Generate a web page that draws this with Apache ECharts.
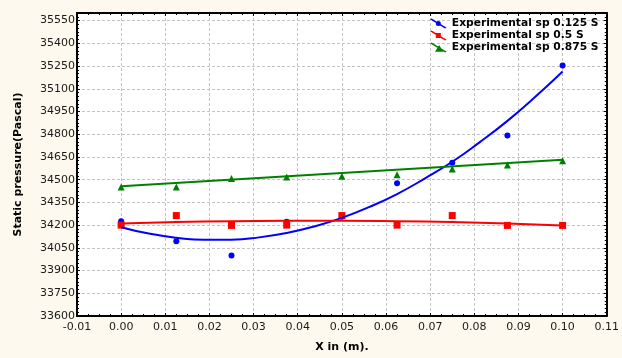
<!DOCTYPE html>
<html>
<head>
<meta charset="utf-8">
<script src="https://cdn.jsdelivr.net/npm/echarts@6/dist/echarts.min.js"></script>
<style>
  html, body { margin: 0; padding: 0; background: #fdf9ee; }
  #chart { width: 622px; height: 358px; }
</style>
</head>
<body>
<div id="chart"></div>
<script>
// Measurement positions along the duct (m)
const positions = [0, 0.0125, 0.025, 0.0375, 0.05, 0.0625, 0.075, 0.0875, 0.1];

// Measured static pressure (Pascal) at each position
const pressure0125 = [34226, 34094, 34000, 34222, 34255, 34476, 34611, 34792, 35254];
const pressure05   = [34200, 34263, 34198, 34200, 34263, 34200, 34263, 34198, 34198];
const pressure0875 = [34452, 34452, 34507, 34518, 34522, 34533, 34571, 34597, 34624];

// Fitted trend curves, sampled along x
const trendX0125 = [0, 0.00625, 0.0125, 0.01875, 0.025, 0.03125, 0.0375, 0.04375, 0.05,
                    0.05625, 0.0625, 0.06875, 0.075, 0.08125, 0.0875, 0.09375, 0.1];
const trend0125  = [34186, 34144, 34117, 34103, 34104, 34119, 34148, 34191, 34248,
                    34320, 34405, 34507, 34618, 34748, 34888, 35045, 35214];
const trend05   = [34211, 34220, 34225, 34228, 34229, 34226, 34220, 34211, 34198];
const trendX0875 = [0, 0.1];
const trend0875  = [34456, 34632];

const seriesNames = ['Experimental sp 0.125 S', 'Experimental sp 0.5 S', 'Experimental sp 0.875 S'];

// Axis extents
const xMin = -0.01, xMax = 0.11, xStep = 0.01;
const yMin = 33600, yMax = 35600, yStep = 150;

const pairs = (xs, ys) => xs.map((x, i) => [x, ys[i]]);

// Legend icons: a slanted stroke with the series marker on it
const iconCircle   = 'path://M0,1 L2,0 L20,11 L18,12 Z M7,6 A3,3 0 1 1 13,6 A3,3 0 1 1 7,6 Z';
const iconSquare   = 'path://M0,1 L2,0 L20,11 L18,12 Z M7,3 L13,3 L13,9 L7,9 Z';
const iconTriangle = 'path://M0,1 L2,0 L20,11 L18,12 Z M11,3 L16,11 L6,11 Z';

const tickFont = { fontFamily: 'DejaVu Sans', fontSize: 11, color: '#1a1a1a' };
const boldFont = { fontFamily: 'DejaVu Sans', fontSize: 11, fontWeight: 'bold', color: '#000' };
const legendFont = { fontFamily: 'DejaVu Sans', fontSize: 10.7, fontWeight: 'bold', color: '#000' };

const gridLine = { show: true, lineStyle: { color: '#c4c4c4', type: [3, 2], width: 1 } };
const frameTicks = { show: true, inside: true, length: 3, lineStyle: { color: '#000', width: 1 } };

function xAxisDef(pos, withLabels) {
  return {
    type: 'value', position: pos, min: xMin, max: xMax, interval: xStep,
    name: withLabels ? 'X in (m).' : '',
    nameLocation: 'middle', nameGap: 26, nameTextStyle: boldFont,
    axisLine: { show: true, onZero: false, lineStyle: { color: '#000', width: 2 } },
    axisTick: frameTicks,
    minorTick: { show: true, splitNumber: 4, length: 2, lineStyle: { color: '#000', width: 1 } },
    splitLine: withLabels ? gridLine : { show: false },
    axisLabel: withLabels ? Object.assign({ margin: 6, formatter: v => v.toFixed(2) }, tickFont) : { show: false }
  };
}

function yAxisDef(pos, withLabels) {
  return {
    type: 'value', position: pos, min: yMin, max: yMax, interval: yStep,
    name: withLabels ? 'Static pressure(Pascal)' : '',
    nameLocation: 'middle', nameGap: 53, nameTextStyle: boldFont,
    axisLine: { show: true, onZero: false, lineStyle: { color: '#000', width: 2 } },
    axisTick: frameTicks,
    minorTick: { show: true, splitNumber: 6, length: 2, lineStyle: { color: '#000', width: 1 } },
    splitLine: withLabels ? gridLine : { show: false },
    axisLabel: withLabels
      ? Object.assign({ margin: 2, showMaxLabel: false, formatter: v => String(Math.round(v)) }, tickFont)
      : { show: false }
  };
}

const chart = echarts.init(document.getElementById('chart'), null, { renderer: 'canvas' });

chart.setOption({
  animation: false,
  backgroundColor: '#fdf9ee',
  grid: {
    left: 77, right: 12, top: 13, bottom: 41,
    show: true, backgroundColor: '#ffffff', borderWidth: 0
  },
  xAxis: [xAxisDef('bottom', true), xAxisDef('top', false)],
  yAxis: [yAxisDef('left', true), yAxisDef('right', false)],
  legend: {
    orient: 'vertical', left: 430, top: 18, padding: 0,
    itemWidth: 17, itemHeight: 10, itemGap: 1,
    textStyle: legendFont,
    data: [
      { name: seriesNames[0], icon: iconCircle },
      { name: seriesNames[1], icon: iconSquare },
      { name: seriesNames[2], icon: iconTriangle }
    ]
  },
  series: [
    {
      name: 'trend 0.125', type: 'line', smooth: true, symbol: 'none',
      data: pairs(trendX0125, trend0125),
      lineStyle: { color: '#0000ff', width: 2 }
    },
    {
      name: seriesNames[0], type: 'scatter', symbol: 'circle', symbolSize: 6,
      data: pairs(positions, pressure0125),
      itemStyle: { color: '#0000ff', opacity: 1 }
    },
    {
      name: 'trend 0.5', type: 'line', smooth: true, symbol: 'none',
      data: pairs(positions, trend05),
      lineStyle: { color: '#ff0000', width: 2 }
    },
    {
      name: seriesNames[1], type: 'scatter', symbol: 'rect', symbolSize: 7,
      data: pairs(positions, pressure05),
      itemStyle: { color: '#ff0000', opacity: 1 }
    },
    {
      name: 'trend 0.875', type: 'line', symbol: 'none',
      data: pairs(trendX0875, trend0875),
      lineStyle: { color: '#008000', width: 2 }
    },
    {
      name: seriesNames[2], type: 'scatter', symbol: 'triangle', symbolSize: 7,
      data: pairs(positions, pressure0875),
      itemStyle: { color: '#008000', opacity: 1 }
    }
  ]
});
</script>
</body>
</html>
